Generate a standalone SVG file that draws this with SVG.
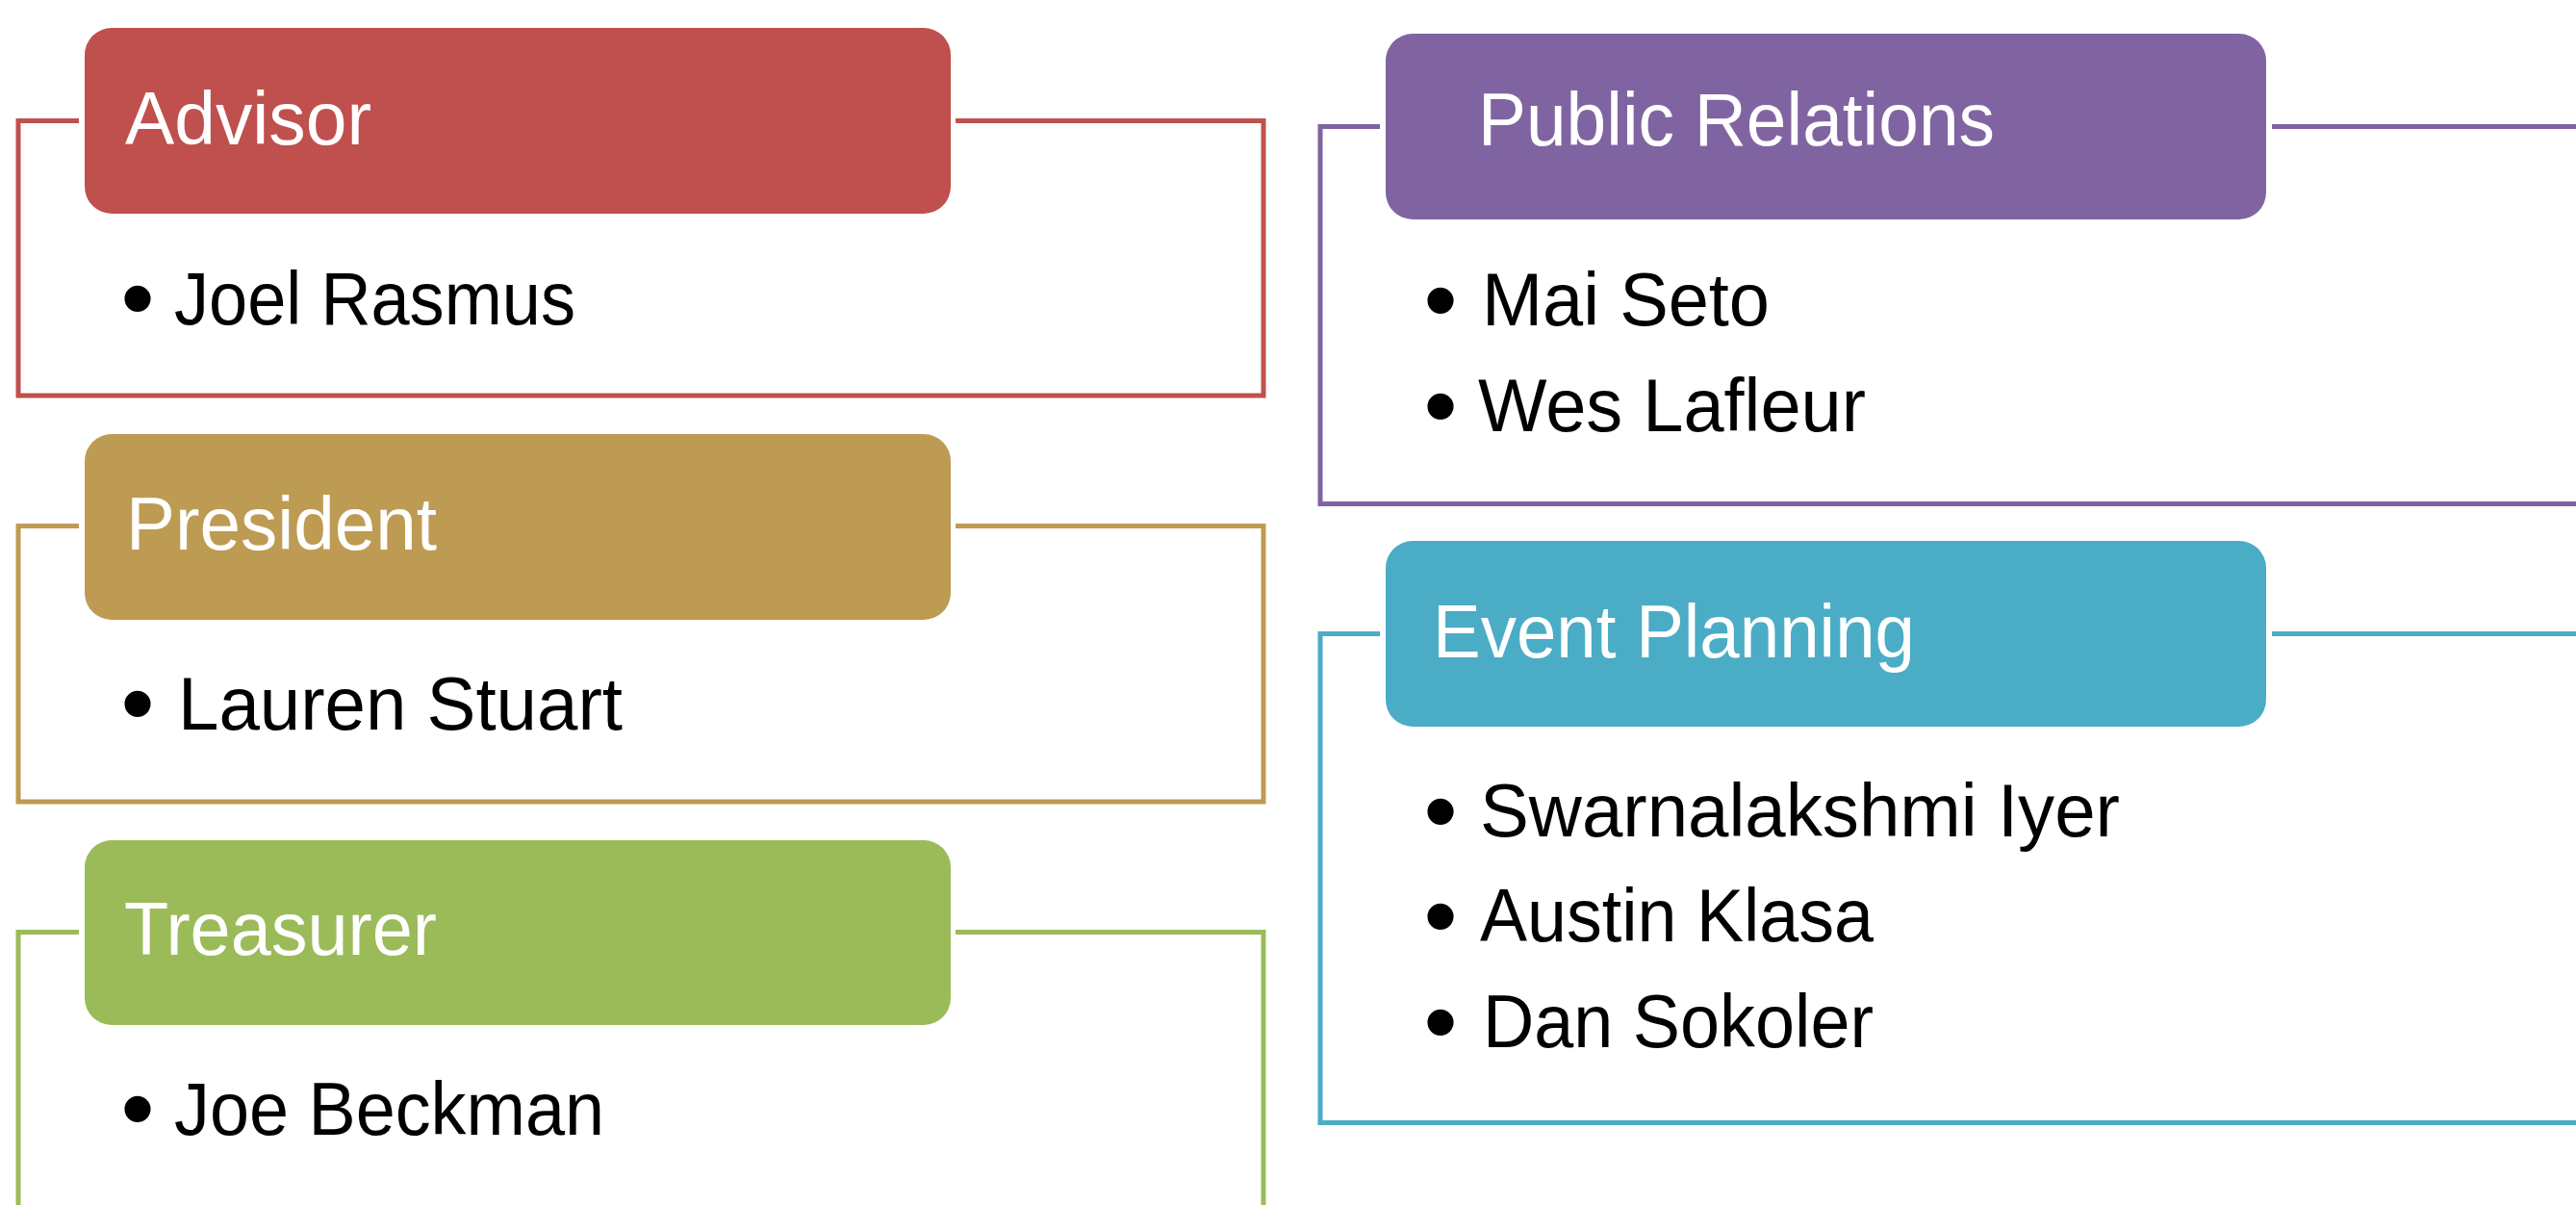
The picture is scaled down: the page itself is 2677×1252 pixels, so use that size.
<svg xmlns="http://www.w3.org/2000/svg" width="2677" height="1252" viewBox="0 0 2677 1252">
<style>
.frame{fill:none;stroke-width:5;stroke-linejoin:miter}
.hdr{font-family:"Liberation Sans",Arial,sans-serif;font-size:77px;fill:#ffffff}
.item{font-family:"Liberation Sans",Arial,sans-serif;font-size:77px;fill:#000000}
.bul{font-family:"Liberation Sans",Arial,sans-serif;font-size:100px;fill:#000000;text-anchor:middle}
</style>
<rect x="0" y="0" width="2677" height="1252" fill="#ffffff"/>
<g id="connectors">
<path class="frame" stroke="#C0504D" d="M82,125.5 H19 V411 H1313 V125.5 H993"/>
<path class="frame" stroke="#BE9B53" d="M82,546.5 H19 V833 H1313 V546.5 H993"/>
<path class="frame" stroke="#9BBB59" d="M82,968.5 H19 V1262 M993,968.5 H1313 V1262"/>
<path class="frame" stroke="#8064A2" d="M1434,131.5 H1372 V523.5 H2685 M2361,131.5 H2685"/>
<path class="frame" stroke="#4BACC6" d="M1434,658.5 H1372 V1166.5 H2685 M2361,658.5 H2685"/>
</g>
<g id="advisor">
<rect x="88" y="29" width="900" height="193" rx="28" ry="28" fill="#C0504D"/>
<text class="hdr" x="130" y="150" textLength="256" lengthAdjust="spacingAndGlyphs">Advisor</text>
<text class="bul" x="143" y="344">•</text>
<text class="item" x="181" y="337" textLength="417" lengthAdjust="spacingAndGlyphs">Joel Rasmus</text>
</g>
<g id="president">
<rect x="88" y="451" width="900" height="193" rx="28" ry="28" fill="#BE9B53"/>
<text class="hdr" x="131" y="571" textLength="323" lengthAdjust="spacingAndGlyphs">President</text>
<text class="bul" x="143" y="765">•</text>
<text class="item" x="185" y="758" textLength="462" lengthAdjust="spacingAndGlyphs">Lauren Stuart</text>
</g>
<g id="treasurer">
<rect x="88" y="873" width="900" height="192" rx="28" ry="28" fill="#9BBB59"/>
<text class="hdr" x="129" y="992" textLength="325" lengthAdjust="spacingAndGlyphs">Treasurer</text>
<text class="bul" x="143" y="1186">•</text>
<text class="item" x="181" y="1179" textLength="447" lengthAdjust="spacingAndGlyphs">Joe Beckman</text>
</g>
<g id="public-relations">
<rect x="1440" y="35" width="915" height="193" rx="28" ry="28" fill="#8064A2"/>
<text class="hdr" x="1536" y="151" textLength="537" lengthAdjust="spacingAndGlyphs">Public Relations</text>
<text class="bul" x="1497" y="346">•</text>
<text class="item" x="1540" y="338" textLength="299" lengthAdjust="spacingAndGlyphs">Mai Seto</text>
<text class="bul" x="1497" y="456">•</text>
<text class="item" x="1536" y="448" textLength="403" lengthAdjust="spacingAndGlyphs">Wes Lafleur</text>
</g>
<g id="event-planning">
<rect x="1440" y="562" width="915" height="193" rx="28" ry="28" fill="#4BACC6"/>
<text class="hdr" x="1489" y="683" textLength="501" lengthAdjust="spacingAndGlyphs">Event Planning</text>
<text class="bul" x="1497" y="877">•</text>
<text class="item" x="1538" y="869" textLength="665" lengthAdjust="spacingAndGlyphs">Swarnalakshmi Iyer</text>
<text class="bul" x="1497" y="986">•</text>
<text class="item" x="1538" y="978" textLength="409" lengthAdjust="spacingAndGlyphs">Austin Klasa</text>
<text class="bul" x="1497" y="1096">•</text>
<text class="item" x="1541" y="1088" textLength="406" lengthAdjust="spacingAndGlyphs">Dan Sokoler</text>
</g>
</svg>
